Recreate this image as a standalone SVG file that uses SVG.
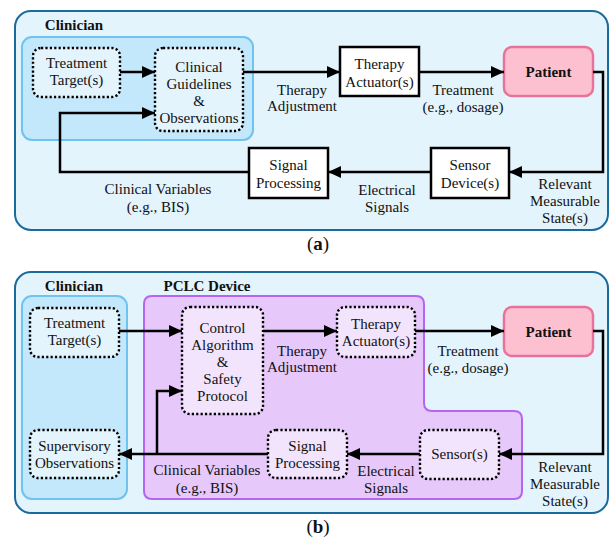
<svg xmlns="http://www.w3.org/2000/svg" width="613" height="541" viewBox="0 0 613 541">
  <defs>
    <marker id="arrow" markerUnits="userSpaceOnUse" markerWidth="14" markerHeight="12" refX="13" refY="6" orient="auto">
      <path d="M0,0 L13,6 L0,12 Z" fill="#000"/>
    </marker>
    <style>
      text { font-family: "Liberation Serif", "Times New Roman", serif; font-size: 15px; fill: #111; text-anchor: middle; }
      .bold { font-weight: bold; }
      .cap { font-size: 19px; }
      .outer { fill: #e3f4fd; stroke: #1b6a9c; stroke-width: 2; }
      .clin { fill: #c3e8fb; stroke: #6fc3ee; stroke-width: 2; }
      .pclc { fill: #e6c8fb; stroke: #b664f2; stroke-width: 2; }
      .dotted { stroke: #000; stroke-width: 2.4; stroke-dasharray: 2.2 2.2; }
      .dotA { fill: #e3f4fd; }
      .dotB { fill: #f2e4fd; }
      .solid { fill: #fff; stroke: #000; stroke-width: 2.5; }
      .patient { fill: #fdc0d0; stroke: #e8739a; stroke-width: 2.5; }
      .wire { fill: none; stroke: #000; stroke-width: 2.5; }
    </style>
  </defs>

  <!-- Panel (a): clinician-in-the-loop -->
  <g id="panel-a">
    <rect class="outer" x="15" y="11" width="593" height="219" rx="16"/>
    <g id="a-clinician">
      <rect class="clin" x="22" y="37" width="231" height="103" rx="10"/>
      <text class="bold" x="74" y="30">Clinician</text>
    </g>
    <g id="a-treatment-target">
      <rect class="dotted dotA" x="33" y="48" width="87" height="49" rx="8"/>
      <text x="76.5" y="68">Treatment</text>
      <text x="76.5" y="85">Target(s)</text>
    </g>
    <g id="a-guidelines">
      <rect class="dotted dotA" x="155" y="48" width="88" height="83" rx="8"/>
      <text x="199" y="72">Clinical</text>
      <text x="199" y="89">Guidelines</text>
      <text x="199" y="106">&amp;</text>
      <text x="199" y="123">Observations</text>
    </g>
    <g id="a-actuator">
      <rect class="solid" x="340" y="47" width="79" height="49"/>
      <text x="379.5" y="69">Therapy</text>
      <text x="379.5" y="87">Actuator(s)</text>
    </g>
    <g id="a-patient">
      <rect class="patient" x="504" y="47" width="89" height="49" rx="8"/>
      <text class="bold" x="548.5" y="77">Patient</text>
    </g>
    <g id="a-sensor">
      <rect class="solid" x="431" y="148" width="78" height="50"/>
      <text x="470" y="170">Sensor</text>
      <text x="470" y="188">Device(s)</text>
    </g>
    <g id="a-signal">
      <rect class="solid" x="249" y="148" width="79" height="50"/>
      <text x="288.5" y="170">Signal</text>
      <text x="288.5" y="188">Processing</text>
    </g>
    <g id="a-connectors">
      <path class="wire" d="M120,72 H155" marker-end="url(#arrow)"/>
      <path class="wire" d="M249,172 H60 V113 H155" marker-end="url(#arrow)"/>
      <path class="wire" d="M243,72 H340" marker-end="url(#arrow)"/>
      <path class="wire" d="M419,72 H504" marker-end="url(#arrow)"/>
      <path class="wire" d="M593,72 H603 V172 H509" marker-end="url(#arrow)"/>
      <path class="wire" d="M431,172 H328" marker-end="url(#arrow)"/>
    </g>
    <g id="a-labels">
      <text x="302" y="95">Therapy</text>
      <text x="302" y="111">Adjustment</text>
      <text x="463" y="95">Treatment</text>
      <text x="463" y="112">(e.g., dosage)</text>
      <text x="565" y="189">Relevant</text>
      <text x="565" y="206">Measurable</text>
      <text x="565" y="223">State(s)</text>
      <text x="387" y="195">Electrical</text>
      <text x="387" y="212">Signals</text>
      <text x="158" y="194">Clinical Variables</text>
      <text x="158" y="212">(e.g., BIS)</text>
    </g>
    <text class="cap" x="318" y="250">(<tspan class="bold">a</tspan>)</text>
  </g>

  <!-- Panel (b): physiological closed-loop control -->
  <g id="panel-b">
    <rect class="outer" x="15" y="272" width="593" height="241" rx="16"/>
    <g id="b-clinician">
      <rect class="clin" x="22" y="296" width="105" height="203" rx="10"/>
      <text class="bold" x="74" y="291">Clinician</text>
    </g>
    <g id="b-pclc">
      <path class="pclc" d="M152,296 H416 Q424,296 424,304 V403 Q424,411 432,411 H514 Q522,411 522,419 V491 Q522,499 514,499 H152 Q144,499 144,491 V304 Q144,296 152,296 Z"/>
      <text class="bold" x="207" y="291">PCLC Device</text>
    </g>
    <g id="b-treatment-target">
      <rect class="dotted dotA" x="30" y="308" width="89" height="49" rx="8"/>
      <text x="74.5" y="328">Treatment</text>
      <text x="74.5" y="345">Target(s)</text>
    </g>
    <g id="b-supervisory">
      <rect class="dotted dotA" x="30" y="430" width="89" height="48" rx="8"/>
      <text x="74.5" y="451">Supervisory</text>
      <text x="74.5" y="468">Observations</text>
    </g>
    <g id="b-control">
      <rect class="dotted dotB" x="182" y="307" width="81" height="107" rx="8"/>
      <text x="222.5" y="333">Control</text>
      <text x="222.5" y="350">Algorithm</text>
      <text x="222.5" y="367">&amp;</text>
      <text x="222.5" y="384">Safety</text>
      <text x="222.5" y="401">Protocol</text>
    </g>
    <g id="b-actuator">
      <rect class="dotted dotB" x="337" y="307" width="78" height="50" rx="8"/>
      <text x="376" y="329">Therapy</text>
      <text x="376" y="346">Actuator(s)</text>
    </g>
    <g id="b-patient">
      <rect class="patient" x="504" y="307" width="89" height="49" rx="8"/>
      <text class="bold" x="548.5" y="337">Patient</text>
    </g>
    <g id="b-sensor">
      <rect class="dotted dotB" x="420" y="430" width="79" height="49" rx="8"/>
      <text x="459.5" y="459">Sensor(s)</text>
    </g>
    <g id="b-signal">
      <rect class="dotted dotB" x="268" y="430" width="79" height="48" rx="8"/>
      <text x="307.5" y="451">Signal</text>
      <text x="307.5" y="468">Processing</text>
    </g>
    <g id="b-connectors">
      <path class="wire" d="M119,331 H182" marker-end="url(#arrow)"/>
      <path class="wire" d="M268,454 H119" marker-end="url(#arrow)"/>
      <path class="wire" d="M157,454 V391 H182" marker-end="url(#arrow)"/>
      <path class="wire" d="M263,331 H337" marker-end="url(#arrow)"/>
      <path class="wire" d="M415,331 H504" marker-end="url(#arrow)"/>
      <path class="wire" d="M593,331 H603 V454 H499" marker-end="url(#arrow)"/>
      <path class="wire" d="M420,454 H347" marker-end="url(#arrow)"/>
    </g>
    <g id="b-labels">
      <text x="302" y="356">Therapy</text>
      <text x="302" y="372">Adjustment</text>
      <text x="468" y="356">Treatment</text>
      <text x="468" y="373">(e.g., dosage)</text>
      <text x="565" y="472">Relevant</text>
      <text x="565" y="489">Measurable</text>
      <text x="565" y="506">State(s)</text>
      <text x="386" y="476">Electrical</text>
      <text x="386" y="493">Signals</text>
      <text x="207" y="475">Clinical Variables</text>
      <text x="207" y="493">(e.g., BIS)</text>
    </g>
    <text class="cap" x="318" y="533">(<tspan class="bold">b</tspan>)</text>
  </g>
</svg>
